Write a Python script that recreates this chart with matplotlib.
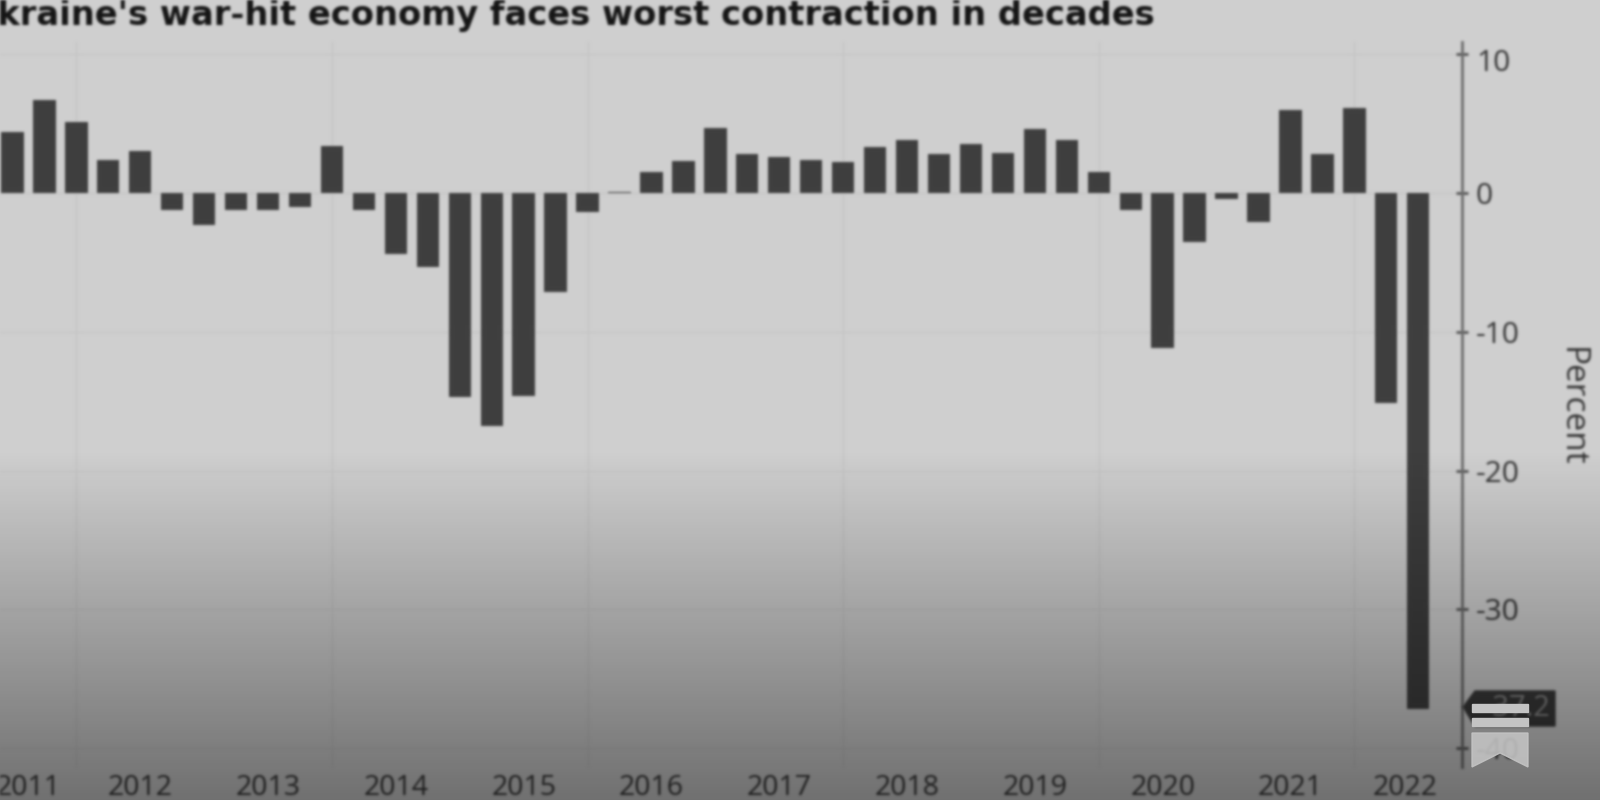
import numpy as np
import matplotlib
matplotlib.use('Agg')
import matplotlib.pyplot as plt
from matplotlib.patches import Polygon, Rectangle
from matplotlib.transforms import ScaledTranslation

# quarterly GDP change, percent (bar 0 is the leftmost one in the crop)
values = [4.4, 6.7, 5.1, 2.4, 3.0, -1.2, -2.3, -1.2, -1.2, -1.0,
          3.4, -1.2, -4.4, -5.3, -14.7, -16.8, -14.6, -7.1, -1.4, 0.1,
          1.5, 2.3, 4.7, 2.8, 2.6, 2.4, 2.2, 3.3, 3.8, 2.8,
          3.5, 2.9, 4.6, 3.8, 1.5, -1.2, -11.2, -3.5, -0.4, -2.1,
          6.0, 2.8, 6.1, -15.1, -37.2]
year_labels = ['2011', '2012', '2013', '2014', '2015', '2016', '2017', '2018',
               '2019', '2020', '2021', '2022']
year_pos = [0.5, 4, 8, 12, 16, 20, 24, 28, 32, 36, 40, 43.6]
grid_x = [2, 10, 18, 26, 34, 42]
y_ticks = [10, 0, -10, -20, -30, -40]
last_label = '-37.2'
title = "Ukraine's war-hit economy faces worst contraction in decades"

bg = '#cfcfcf'
bar_col = '#3e3e3e'
text_col = '#333333'
plt.rcParams['font.family'] = ['Open Sans', 'DejaVu Sans']


# the reference is a soft upscaled picture, so blur everything a little
def soften(image, dpi, sigma=1.3):
    pad = 6
    r = np.arange(-pad, pad + 1)
    k = np.exp(-r**2 / (2 * sigma**2))
    k = k / k.sum()
    img = np.pad(image, ((pad, pad), (pad, pad), (0, 0))).astype(float)
    alpha = img[:, :, 3:]
    img[:, :, :3] = img[:, :, :3] * alpha
    for axis in (0, 1):
        img = np.apply_along_axis(lambda m: np.convolve(m, k, mode='same'), axis, img)
    alpha = np.clip(img[:, :, 3:], 1e-4, 1)
    img[:, :, :3] = np.clip(img[:, :, :3] / alpha, 0, 1)
    return img, -pad, -pad


fig = plt.figure(figsize=(16, 8), dpi=100, facecolor=bg)
W, H = 1600, 800
ax = fig.add_axes([0, 1 - 767 / H, 1462 / W, (767 - 42) / H], facecolor='none')

x = np.arange(len(values))
ax.bar(x, values, width=0.7, color=bar_col, zorder=3)
ax.set_xlim(-0.39, 45.37)
ax.set_ylim(-41.35, 10.88)

for g in grid_x:
    ax.axvline(g, color='#c4c4c4', lw=1, zorder=1)
for t in y_ticks:
    ax.axhline(t, color='#c6c6c6', lw=1, zorder=1)

for s in ['top', 'left', 'bottom']:
    ax.spines[s].set_visible(False)
ax.spines['right'].set_color('#6e6e6e')
ax.spines['right'].set_linewidth(2)

ax.yaxis.tick_right()
ax.set_yticks(y_ticks)
ax.set_yticklabels([str(t) for t in y_ticks], fontsize=21.5, color=text_col)
ax.tick_params(axis='y', direction='inout', length=8, width=2, color='#555555', pad=6)
# the top label sits a little under its tick
top_label = ax.get_yticklabels()[0]
top_label.set_transform(top_label.get_transform() + ScaledTranslation(0, -6 / 100, fig.dpi_scale_trans))
ax.set_xticks(year_pos)
ax.set_xticklabels(year_labels, fontsize=20.5, color=text_col)
ax.tick_params(axis='x', length=0, pad=5)
ax.set_agg_filter(soften)

t1 = fig.text(1571 / W, 1 - 407 / H, 'Percent', rotation=270, fontsize=24, color=text_col,
              ha='center', va='center')
t2 = fig.text(-30 / W, 1 - 15 / H, title, fontsize=24.2, fontweight='bold', color='#141414',
              family='DejaVu Sans', ha='left', va='center')
t1.set_agg_filter(soften)
t2.set_agg_filter(soften)

# overlay in pixel coordinates: the callout, the fade and the icon
ov = fig.add_axes([0, 0, 1, 1], facecolor='none')
ov.set_xlim(0, W)
ov.set_ylim(H, 0)
ov.axis('off')
box = Polygon([(1463, 707), (1475, 691), (1555, 691), (1555, 726), (1475, 726)],
              color='#3a3a3a', zorder=1)
ov.add_patch(box)
box.set_agg_filter(soften)
t3 = ov.text(1551, 708, last_label, fontsize=21, color='#8c8c8c', ha='right', va='center', zorder=2)
t3.set_agg_filter(soften)

fade = np.zeros((H, 1, 4))
fade[450:, 0, 3] = np.linspace(0, 0.46, H - 450)
ov.imshow(fade, extent=[0, W, H, 0], aspect='auto', zorder=3)

icon = '#c4c4c4'
ov.add_patch(Rectangle((1472, 704), 56, 8, color=icon, zorder=4))
ov.add_patch(Rectangle((1472, 718), 56, 8, color=icon, zorder=4))
ov.add_patch(Polygon([(1472, 733), (1528, 733), (1528, 767), (1500, 753), (1472, 767)],
                     color=icon, alpha=0.88, zorder=4))
ov.set_xlim(0, W)
ov.set_ylim(H, 0)

fig.savefig('out.png', dpi=100, facecolor=bg)
